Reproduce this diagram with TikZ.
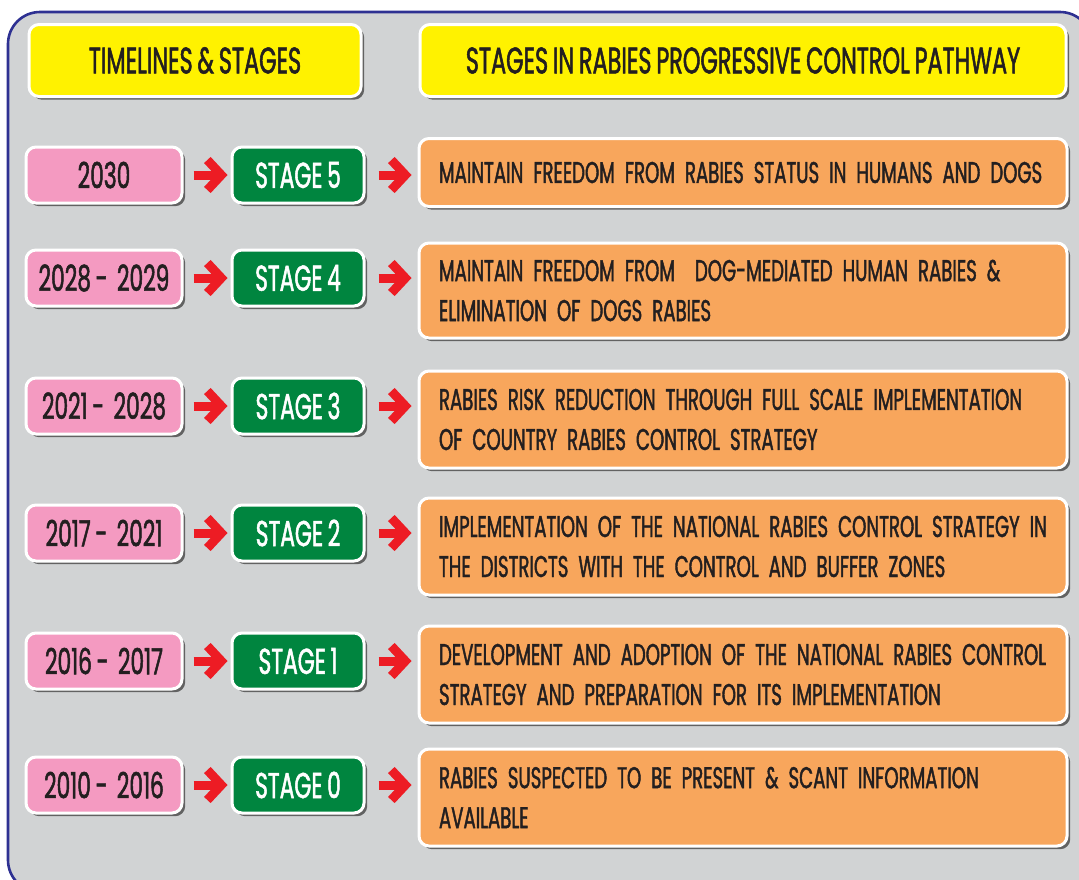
\documentclass[tikz,border=0pt]{standalone}
\usepackage{fontspec}
\setmainfont{Poppins}[FakeStretch=0.605, FakeBold=1.4, WordSpace=0.8]
\usepackage{tikz}
\usetikzlibrary{arrows.meta,shadows}

\definecolor{panelgray}{HTML}{D1D3D4}
\definecolor{framenavy}{HTML}{2E3192}
\definecolor{headyellow}{HTML}{FFF200}
\definecolor{yearpink}{HTML}{F49AC1}
\definecolor{stagegreen}{HTML}{00853F}
\definecolor{pathorange}{HTML}{F8A65C}
\definecolor{arrowred}{HTML}{ED1C24}
\definecolor{inkdark}{HTML}{231F20}

\begin{document}
\begin{tikzpicture}[x=0.5pt, y=-0.5pt,
  box/.style={draw=white, line width=1.5pt, rounded corners=5pt, inner sep=0pt,
    drop shadow={shadow xshift=1.6pt, shadow yshift=-1.6pt, fill=black!80, opacity=0.7}},
  headbox/.style={box, fill=headyellow, minimum height=36pt, text=inkdark, font=\fontsize{18.5}{20}\selectfont},
  yearbox/.style={box, fill=yearpink, minimum width=78pt, minimum height=28pt, text=inkdark, font=\fontsize{18}{20}\selectfont},
  stagebox/.style={box, fill=stagegreen, minimum width=66pt, minimum height=28pt, text=white, font=\fontsize{18}{20}\selectfont},
  pathbox/.style={box, fill=pathorange, text width=324pt, inner xsep=0pt, align=left, text=inkdark,
    font=\fontsize{15}{20}\selectfont, execute at begin node={\leftskip=10pt\hyphenpenalty=10000}},
  flow/.style={arrowred, line width=4.5pt, -{Straight Barb[sharp, length=7pt, width=15pt]}}]

  \useasboundingbox (0,0) rectangle (1079,879);
  \clip (0,0) rectangle (1079,879);
  \draw[framenavy, line width=1.3pt, fill=panelgray, rounded corners=16pt] (8,12) rectangle (1092,892);

  \node[headbox, minimum width=166pt] (hdtime) at (195,60.5) {TIMELINES \& STAGES};
  \node[headbox, minimum width=323pt] (hdpath) at (743,60.5) {STAGES IN RABIES PROGRESSIVE CONTROL PATHWAY};

  \node[yearbox] (yr5) at (104,175) {2030};
  \node[stagebox] (st5) at (298,175) {STAGE 5};
  \node[pathbox, minimum height=34pt] (ds5) at (743,172.5) {MAINTAIN FREEDOM FROM RABIES STATUS IN HUMANS AND DOGS};

  \node[yearbox] (yr4) at (104,278) {2028 - \ 2029};
  \node[stagebox] (st4) at (298,278) {STAGE 4};
  \node[pathbox, minimum height=47.5pt] (ds4) at (743,290.5) {MAINTAIN FREEDOM FROM \ DOG-MEDIATED HUMAN RABIES \&\\ELIMINATION OF DOGS RABIES};

  \node[yearbox] (yr3) at (104,406) {2021 - \ 2028};
  \node[stagebox] (st3) at (298,406) {STAGE 3};
  \node[pathbox, minimum height=48.5pt] (ds3) at (743,419.5) {RABIES RISK REDUCTION THROUGH FULL SCALE IMPLEMENTATION\\OF COUNTRY RABIES CONTROL STRATEGY};

  \node[yearbox] (yr2) at (104,533) {2017 - \ 2021};
  \node[stagebox] (st2) at (298,533) {STAGE 2};
  \node[pathbox, minimum height=48.5pt] (ds2) at (743,546.5) {IMPLEMENTATION OF THE NATIONAL RABIES CONTROL STRATEGY IN\\THE DISTRICTS WITH THE CONTROL AND BUFFER ZONES};

  \node[yearbox] (yr1) at (104,661) {2016 - \ 2017};
  \node[stagebox] (st1) at (298,661) {STAGE 1};
  \node[pathbox, minimum height=48.5pt] (ds1) at (743,674.5) {DEVELOPMENT AND ADOPTION OF THE NATIONAL RABIES CONTROL\\STRATEGY AND PREPARATION FOR ITS IMPLEMENTATION};

  \node[yearbox] (yr0) at (104,785) {2010 - \ 2016};
  \node[stagebox] (st0) at (298,785) {STAGE 0};
  \node[pathbox, minimum height=48.5pt] (ds0) at (743,797.5) {RABIES SUSPECTED TO BE PRESENT \& SCANT INFORMATION\\AVAILABLE};

  \draw[flow, shorten <=5pt, shorten >=1.5pt] (yr5) -- (st5);
  \draw[flow, shorten <=6.5pt, shorten >=3pt] (st5) -- (st5 -| ds5.west);
  \draw[flow, shorten <=5pt, shorten >=1.5pt] (yr4) -- (st4);
  \draw[flow, shorten <=6.5pt, shorten >=3pt] (st4) -- (st4 -| ds4.west);
  \draw[flow, shorten <=5pt, shorten >=1.5pt] (yr3) -- (st3);
  \draw[flow, shorten <=6.5pt, shorten >=3pt] (st3) -- (st3 -| ds3.west);
  \draw[flow, shorten <=5pt, shorten >=1.5pt] (yr2) -- (st2);
  \draw[flow, shorten <=6.5pt, shorten >=3pt] (st2) -- (st2 -| ds2.west);
  \draw[flow, shorten <=5pt, shorten >=1.5pt] (yr1) -- (st1);
  \draw[flow, shorten <=6.5pt, shorten >=3pt] (st1) -- (st1 -| ds1.west);
  \draw[flow, shorten <=5pt, shorten >=1.5pt] (yr0) -- (st0);
  \draw[flow, shorten <=6.5pt, shorten >=3pt] (st0) -- (st0 -| ds0.west);
\end{tikzpicture}
\end{document}
